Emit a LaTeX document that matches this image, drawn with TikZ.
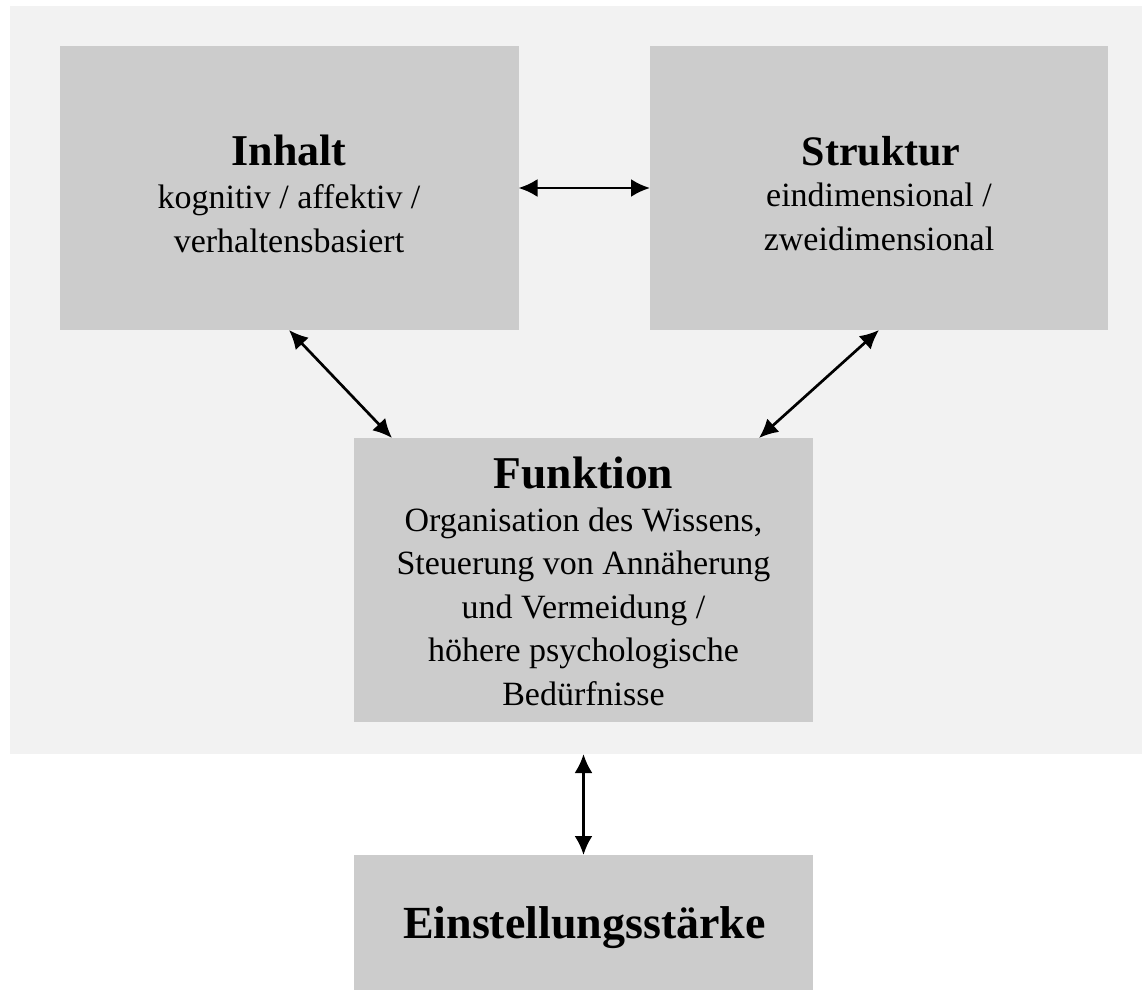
\documentclass[tikz,border=0pt]{standalone}
\usepackage{fontspec}
\setmainfont{Liberation Serif}
\usetikzlibrary{arrows.meta,calc}
\definecolor{panelgray}{HTML}{F2F2F2}
\definecolor{boxgray}{HTML}{CCCCCC}
\tikzset{
  box/.style={fill=boxgray, draw=none, inner sep=0pt, outer sep=0pt, minimum width=459pt, minimum height=284pt},
  ttl/.style={anchor=base, inner sep=0pt, font=\fontsize{#1}{50}\selectfont\bfseries},
  ttl/.default=44,
  body/.style={anchor=base, inner sep=0pt, align=center, font=\fontsize{34}{43.5}\selectfont},
  link/.style={line width=2.7pt, {Latex[length=19pt,width=18pt]}-{Latex[length=19pt,width=18pt]}}
}
\begin{document}
\begin{tikzpicture}[x={(1pt,0)}, y={(0,-1pt)}]
\useasboundingbox (0,0) rectangle (1142,990);
\fill[white] (0,0) rectangle (1142,990);
\node[fill=panelgray, draw=none, inner sep=0pt, outer sep=0pt, minimum width=1132pt, minimum height=748pt] (panel) at (576,380) {};
\node[box] (inhalt) at (289,188) {};
\node[box, minimum width=458pt] (struktur) at (879,188) {};
\node[box] (funktion) at (583.5,580) {};
\node[box, minimum height=135pt] (einst) at (583.5,922.5) {};
% texts (body nodes are placed by the baseline of their last line)
\node[ttl=44] (t1) at (289,165) {Inhalt};
\node[body] (b1) at (289,252) {kognitiv / affektiv /\\verhaltensbasiert};
\node[ttl=42] (t2) at (881,165) {Struktur};
\node[body] (b2) at (879,250) {eindimensional /\\zweidimensional};
\node[ttl=45.5] (t3) at (583.5,488) {Funktion};
\node[body] (b3) at (583.5,705) {Organisation des Wissens,\\Steuerung von Annäherung\\und Vermeidung /\\höhere psychologische\\Bedürfnisse};
\node[ttl=46] (t4) at (584.5,938) {Einstellungsstärke};
% connectors
\coordinate (fl) at ($(funktion.north west)+(38,0)$);
\coordinate (fr) at ($(funktion.north east)+(-54,0)$);
\coordinate (pb) at (funktion.south |- panel.south);
\draw[link] (inhalt.east) -- (struktur.west);
\draw[link] (inhalt.south) -- (fl);
\draw[link] (struktur.south) -- (fr);
\draw[link] (pb) -- (einst.north);
\end{tikzpicture}
\end{document}
